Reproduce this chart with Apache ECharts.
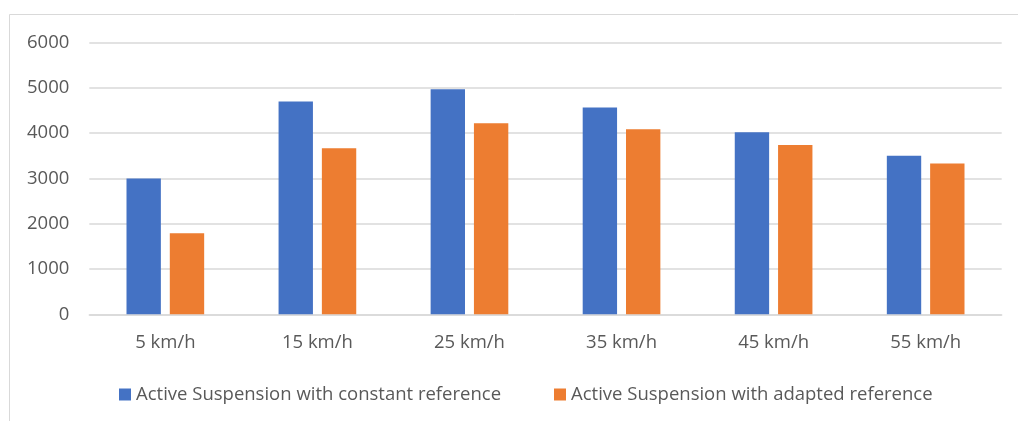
<!DOCTYPE html>
<html>
<head>
<meta charset="utf-8">
<script src="https://cdn.jsdelivr.net/npm/echarts@6/dist/echarts.min.js"></script>
<style>html,body{margin:0;padding:0;background:#fff}#c{width:1018px;height:421px}</style>
</head>
<body>
<div id="c"></div>
<script>
const categories = ['5 km/h', '15 km/h', '25 km/h', '35 km/h', '45 km/h', '55 km/h'];
const constantRef = [3000, 4700, 4970, 4570, 4020, 3500];
const adaptedRef = [1790, 3670, 4220, 4090, 3740, 3330];
const seriesNames = ['Active Suspension with constant reference', 'Active Suspension with adapted reference'];
const yTicks = { min: 0, max: 6000, interval: 1000 };

const FONT = 'Open Sans';
const FS = 18.5;
const chart = echarts.init(document.getElementById('c'), null, { renderer: 'canvas' });
chart.setOption({
  animation: false,
  backgroundColor: '#fff',
  textStyle: { fontFamily: FONT },
  graphic: [{
    type: 'rect',
    shape: { x: 9.5, y: 14.5, width: 1100, height: 500 },
    style: { fill: 'none', stroke: '#d9d9d9', lineWidth: 1 },
    silent: true
  }],
  grid: { left: 89.3, right: 16.3, top: 42.7, bottom: 106.7, containLabel: false },
  legend: {
    data: seriesNames,
    left: 114, top: 380,
    icon: 'rect', itemWidth: 12, itemHeight: 12, itemGap: 53,
    textStyle: { color: '#595959', fontSize: FS, fontFamily: FONT }
  },
  xAxis: {
    type: 'category', data: categories,
    axisLine: { lineStyle: { color: '#d9d9d9', width: 1.5 } },
    axisTick: { show: false },
    axisLabel: { color: '#595959', fontSize: FS, margin: 19, fontFamily: FONT }
  },
  yAxis: {
    type: 'value', min: yTicks.min, max: yTicks.max, interval: yTicks.interval,
    axisLine: { show: false }, axisTick: { show: false },
    splitLine: { lineStyle: { color: '#d9d9d9', width: 1.5 } },
    axisLabel: { color: '#595959', fontSize: FS, margin: 20, fontFamily: FONT,
      formatter: function (v) { return String(v); } }
  },
  series: [
    { name: seriesNames[0], type: 'bar', data: constantRef, barWidth: '22.6%', barGap: '26%',
      itemStyle: { color: '#4472C4' } },
    { name: seriesNames[1], type: 'bar', data: adaptedRef, barWidth: '22.6%',
      itemStyle: { color: '#ED7D31' } }
  ]
});
</script>
</body>
</html>
